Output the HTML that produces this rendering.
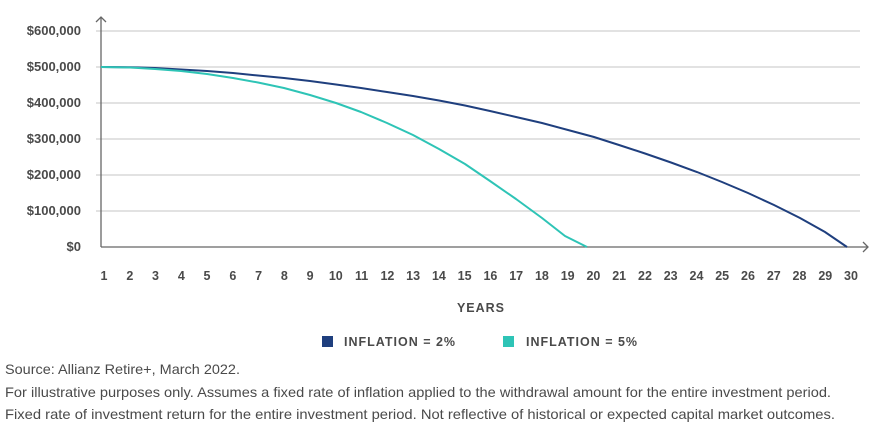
<!DOCTYPE html>
<html><head><style>
body{margin:0;background:#fff;width:879px;height:425px;overflow:hidden;font-family:"Liberation Sans",sans-serif}
svg text{font-family:"Liberation Sans",sans-serif}
</style></head><body>
<svg width="879" height="425" xmlns="http://www.w3.org/2000/svg">
<g stroke="#d9d9d9" stroke-width="1.5">
<line x1="96" y1="31" x2="860" y2="31"/><line x1="96" y1="67" x2="860" y2="67"/>
<line x1="96" y1="103" x2="860" y2="103"/><line x1="96" y1="139" x2="860" y2="139"/>
<line x1="96" y1="175" x2="860" y2="175"/><line x1="96" y1="211" x2="860" y2="211"/>
</g>
<g fill="#4a4a4a" font-size="13" font-weight="bold" text-anchor="end">
<text x="81" y="35">$600,000</text><text x="81" y="71">$500,000</text>
<text x="81" y="107">$400,000</text><text x="81" y="143">$300,000</text>
<text x="81" y="179">$200,000</text><text x="81" y="215">$100,000</text>
<text x="81" y="251">$0</text>
</g>
<g stroke="#666" stroke-width="1.3" fill="none">
<line x1="101" y1="17" x2="101" y2="247"/>
<polyline points="96,22 101,17 106,22"/>
<line x1="101" y1="247" x2="868" y2="247"/>
<polyline points="863,242 868,247 863,252"/>
</g>
<path d="M101,67 L130,67.3 L155,68 L181,69.5 L207,71 L233,73 L258,75.5 L284,78 L310,81 L336,84.5 L361,88 L387,92 L413,96 L439,100.5 L465,105.5 L490,111 L516,117 L542,123 L568,130 L594,137 L619,145 L645,153.5 L671,162.5 L697,172 L722,182 L748,193 L774,205 L800,218 L825,232 L847,247" fill="none" stroke="#1f3f7e" stroke-width="2"/>
<path d="M101,67 L130,67.5 L155,69 L181,71 L207,74 L233,78 L258,82.5 L284,88 L310,95 L336,103 L361,112 L387,123 L413,135 L439,149 L465,164 L490,181 L516,199 L542,218 L565,236 L587,247" fill="none" stroke="#2ec4b6" stroke-width="2" stroke-linejoin="round"/>
<g fill="#4a4a4a" font-size="12.5" font-weight="bold" text-anchor="middle">
<text x="104" y="280">1</text><text x="129.8" y="280">2</text><text x="155.5" y="280">3</text><text x="181.3" y="280">4</text><text x="207" y="280">5</text><text x="232.8" y="280">6</text><text x="258.6" y="280">7</text><text x="284.3" y="280">8</text><text x="310.1" y="280">9</text><text x="335.8" y="280">10</text><text x="361.6" y="280">11</text><text x="387.4" y="280">12</text><text x="413.1" y="280">13</text><text x="438.9" y="280">14</text><text x="464.6" y="280">15</text><text x="490.4" y="280">16</text><text x="516.2" y="280">17</text><text x="541.9" y="280">18</text><text x="567.7" y="280">19</text><text x="593.4" y="280">20</text><text x="619.2" y="280">21</text><text x="645" y="280">22</text><text x="670.7" y="280">23</text><text x="696.5" y="280">24</text><text x="722.2" y="280">25</text><text x="748" y="280">26</text><text x="773.8" y="280">27</text><text x="799.5" y="280">28</text><text x="825.3" y="280">29</text><text x="851" y="280">30</text>
<text x="481" y="312" letter-spacing="1">YEARS</text>
</g>
<rect x="322" y="336" width="11" height="11" fill="#1f3f7e"/>
<rect x="503" y="336" width="11" height="11" fill="#2ec4b6"/>
<g fill="#4a4a4a" font-size="12.5" font-weight="bold" letter-spacing="1">
<text x="344" y="346">INFLATION = 2%</text>
<text x="526" y="346">INFLATION = 5%</text>
</g>
<g fill="#4a4a4a" font-size="14">
<text x="5" y="374" textLength="235" lengthAdjust="spacingAndGlyphs">Source: Allianz Retire+, March 2022.</text>
<text x="5" y="397" textLength="826" lengthAdjust="spacingAndGlyphs">For illustrative purposes only. Assumes a fixed rate of inflation applied to the withdrawal amount for the entire investment period.</text>
<text x="5" y="419" textLength="830" lengthAdjust="spacingAndGlyphs">Fixed rate of investment return for the entire investment period. Not reflective of historical or expected capital market outcomes.</text>
</g>
</svg>
</body></html>
